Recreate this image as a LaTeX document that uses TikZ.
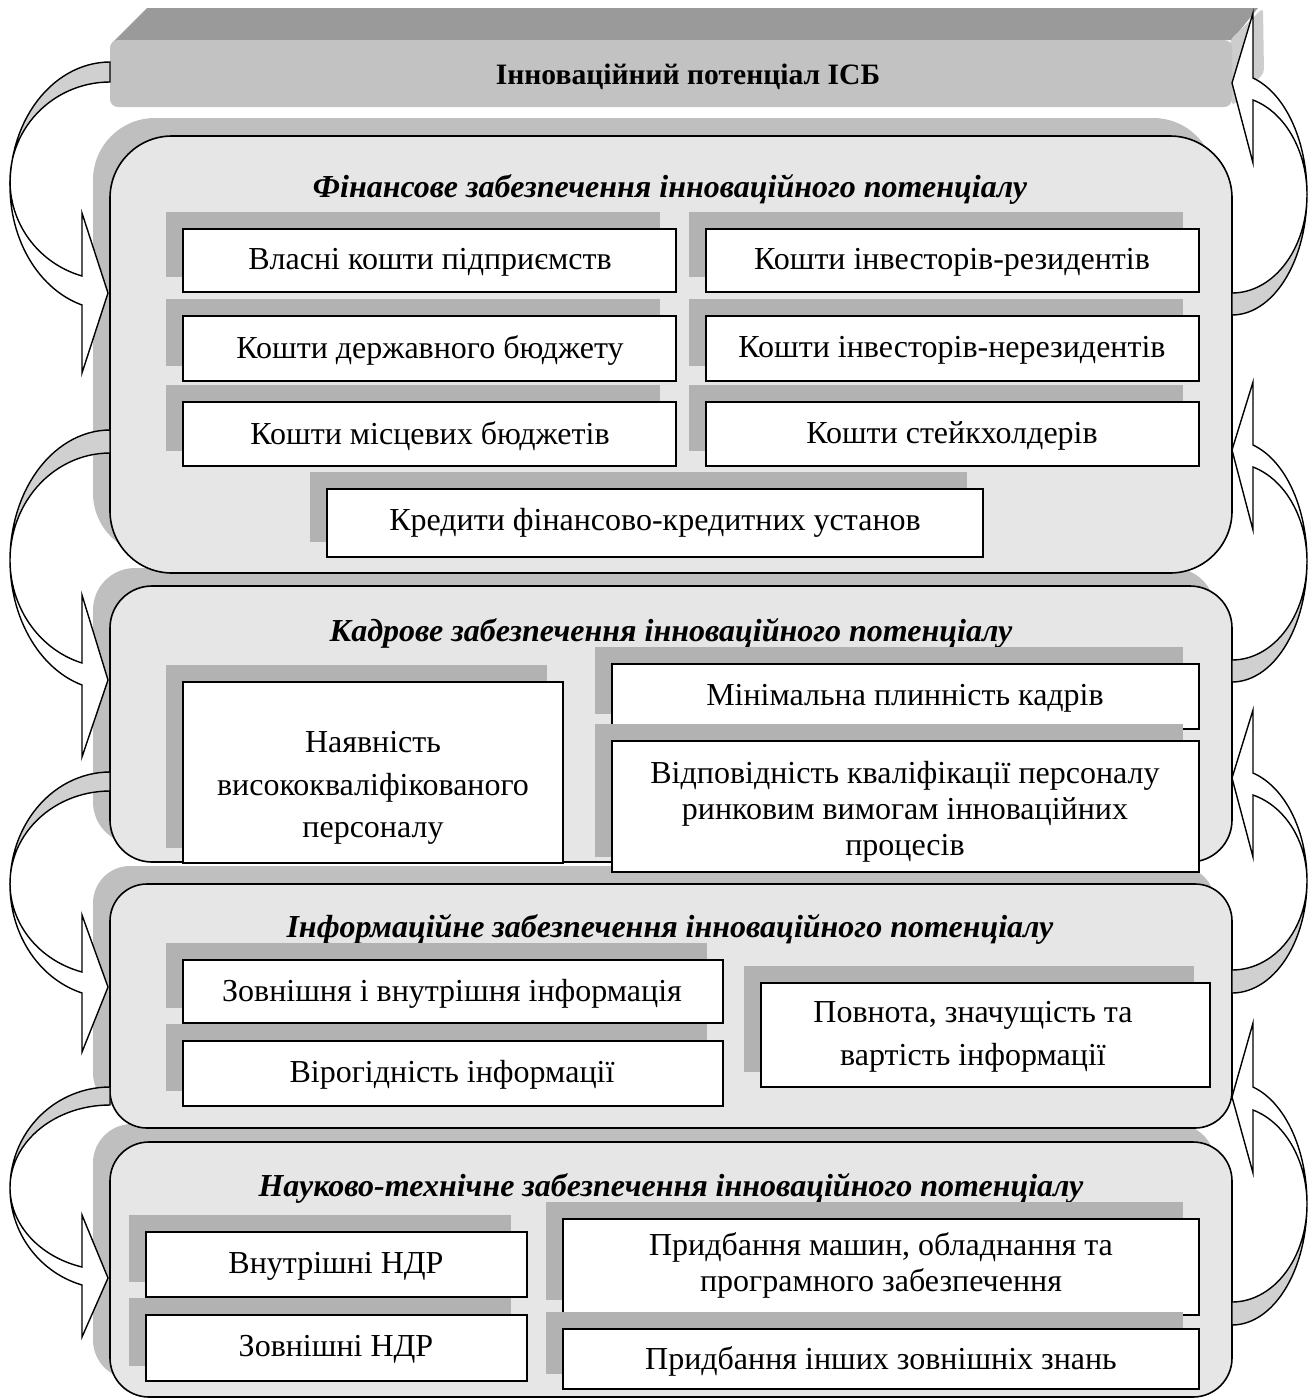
\documentclass[tikz,border=0pt]{standalone}
\usepackage{fontspec}
\setmainfont{Liberation Serif}
\definecolor{pfill}{HTML}{E6E6E6}
\definecolor{psh}{HTML}{BFBFBF}
\definecolor{bsh}{HTML}{B2B2B2}
\definecolor{agray}{HTML}{D0D0D0}
\definecolor{btop}{HTML}{9A9A9A}
\definecolor{bfront}{HTML}{C2C2C2}
\definecolor{bside}{HTML}{CDCDCD}
\tikzset{
 panel/.style={draw=black, line width=0.8pt, fill=pfill},
 boxr/.style={draw=black, line width=0.8pt, fill=white},
 txt/.style={align=center, inner sep=0pt, font=\fontsize{16}{18}\selectfont},
 ttl/.style={inner sep=0pt, font=\fontsize{16}{19}\selectfont\bfseries\itshape},
 arrg/.style={draw=black, line width=0.7pt, fill=agray, line join=miter},
 arrw/.style={draw=black, line width=0.7pt, fill=white, line join=miter}
}
% name x1 y1 x2 y2 textx texty opts text
\newcommand\bx[9]{%
 \fill[bsh] ({#2-17},{#3-17}) rectangle ({#4-16},{#5-15});
 \draw[boxr] (#2,#3) rectangle (#4,#5);
 \node[txt,#8] (#1) at (#6,#7) {#9};
}
\newcommand\larr[7]{%
 \pgfmathsetmacro\ryo{(#3-#1)/1.96}\pgfmathsetmacro\co{#1+\ryo}%
 \pgfmathsetmacro\ryi{(#4-#2)/1.96}\pgfmathsetmacro\ci{#2+\ryi}%
 \draw[arrg] plot[domain=0:90,samples=30] ({110-100*sin(\x)},{\co-\ryo*cos(\x)}) -- plot[domain=90:0,samples=30] ({110-100*sin(\x)},{\ci-\ryi*cos(\x)}) -- cycle;
 \draw[arrw] plot[domain=90:163.74,samples=30] ({110-100*sin(\x)},{\co-\ryo*cos(\x)}) -- (82,#7) -- (108,#6) -- (82,#5) -- plot[domain=163.74:90,samples=30] ({110-100*sin(\x)},{\ci-\ryi*cos(\x)}) -- cycle;
}
\newcommand\rarr[7]{%
 \pgfmathsetmacro\ryo{(#1-#3)/1.96}\pgfmathsetmacro\co{#1-\ryo}%
 \pgfmathsetmacro\ryi{(#2-#4)/1.96}\pgfmathsetmacro\ci{#2-\ryi}%
 \draw[arrg] plot[domain=0:90,samples=30] ({1232+75*sin(\x)},{\co+\ryo*cos(\x)}) -- plot[domain=90:0,samples=30] ({1232+75*sin(\x)},{\ci+\ryi*cos(\x)}) -- cycle;
 \draw[arrw] plot[domain=90:163.74,samples=30] ({1232+75*sin(\x)},{\co+\ryo*cos(\x)}) -- (1253,#5) -- (1232,#6) -- (1253,#7) -- plot[domain=163.74:90,samples=30] ({1232+75*sin(\x)},{\ci+\ryi*cos(\x)}) -- cycle;
}
\begin{document}
\begin{tikzpicture}[x=0.5pt,y=-0.5pt]
\useasboundingbox (0,0) rectangle (1308,1399);
% banner
\fill[btop] (113,42) -- (147,8) -- (1258,8) -- (1232,40) -- cycle;
\fill[bside, rounded corners=2pt] (1230,40) -- (1263,8) -- (1264,73) -- (1232,106) -- cycle;
\fill[bfront, rounded corners=4pt] (110,40) rectangle (1232,107);
\node[inner sep=0pt, font=\fontsize{14.8}{18}\selectfont\bfseries] (ban) at (688,77) {Інноваційний потенціал ІСБ};
% panel shadows
\fill[psh, rounded corners=31pt] (93,118) rectangle (1215,555);
\fill[psh, rounded corners=21pt] (93,568) rectangle (1215,844);
\fill[psh, rounded corners=18.5pt] (93,866) rectangle (1215,1110);
\fill[psh, rounded corners=19.5pt] (93,1124) rectangle (1215,1379);
% panels
\draw[panel, rounded corners=31pt] (110,136) rectangle (1232,573);
\draw[panel, rounded corners=21pt] (110,586) rectangle (1232,862);
\draw[panel, rounded corners=18.5pt] (110,884) rectangle (1232,1128);
\draw[panel, rounded corners=19.5pt] (110,1142) rectangle (1232,1397);
% titles
\node[ttl] (t1) at (670,189) {Фінансове забезпечення інноваційного потенціалу};
\node[ttl] (t2) at (671,633) {Кадрове забезпечення інноваційного потенціалу};
\node[ttl] (t3) at (670,929) {Інформаційне забезпечення інноваційного потенціалу};
\node[ttl] (t4) at (671,1188) {Науково-технічне забезпечення інноваційного потенціалу};
% panel 1 boxes
\bx{f1}{183}{229}{676}{292}{430}{262}{}{Власні кошти підприємств}
\bx{f2}{183}{316}{676}{381}{430}{350}{}{Кошти державного бюджету}
\bx{f3}{183}{402}{676}{466}{430}{436}{}{Кошти місцевих бюджетів}
\bx{f4}{706}{229}{1199}{292}{952}{262}{}{Кошти інвесторів-резидентів}
\bx{f5}{706}{316}{1199}{381}{952}{350}{}{Кошти інвесторів-нерезидентів}
\bx{f6}{706}{402}{1199}{466}{952}{436}{}{Кошти стейкхолдерів}
\bx{f7}{327}{489}{983}{557}{655}{523}{}{Кредити фінансово-кредитних установ}
% panel 2 boxes
\bx{k1}{183}{682}{563}{863}{373}{788}{font=\fontsize{16}{21.3}\selectfont}{Наявність\\висококваліфікованого\\персоналу}
\bx{k2}{612}{664}{1199}{729}{905}{698}{}{Мінімальна плинність кадрів}
\bx{k3}{612}{741}{1199}{872}{905}{812}{}{Відповідність кваліфікації персоналу\\ринковим вимогам інноваційних\\процесів}
% panel 3 boxes
\bx{i1}{183}{960}{723}{1023}{452}{994}{}{Зовнішня і внутрішня інформація}
\bx{i2}{183}{1041}{723}{1106}{452}{1075}{}{Вірогідність інформації}
\bx{i3}{761}{983}{1210}{1087}{973}{1037}{font=\fontsize{16}{21.5}\selectfont}{Повнота, значущість та\\вартість інформації}
% panel 4 boxes
\bx{n1}{146}{1232}{527}{1297}{336}{1266}{}{Внутрішні НДР}
\bx{n2}{146}{1315}{527}{1381}{336}{1349}{}{Зовнішні НДР}
\bx{n3}{563}{1219}{1199}{1315}{881}{1265}{}{Придбання машин, обладнання та\\програмного забезпечення}
\bx{n4}{563}{1329}{1199}{1389}{881}{1361}{}{Придбання інших зовнішніх знань}
% curved arrows
\larr{62}{82}{305}{276}{213}{293}{373}
\larr{430}{453}{685}{663}{595}{680}{757}
\larr{772}{791}{993}{972}{915}{987}{1052}
\larr{1087}{1105}{1285}{1267}{1215}{1278}{1337}
\rarr{315}{293}{78}{100}{13}{83}{163}
\rarr{682}{660}{445}{467}{382}{450}{530}
\rarr{993}{970}{773}{795}{710}{778}{857}
\rarr{1325}{1302}{1087}{1110}{1023}{1097}{1173}
\end{tikzpicture}
\end{document}
